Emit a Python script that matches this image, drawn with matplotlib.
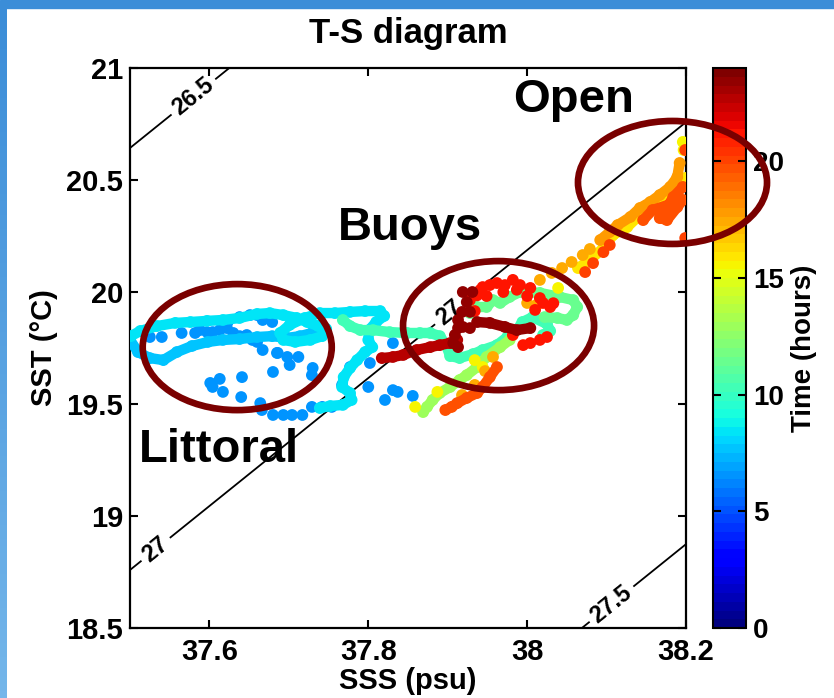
import numpy as np
import matplotlib
matplotlib.use("Agg")
import matplotlib.pyplot as plt
from matplotlib.patches import Ellipse, Rectangle
from matplotlib.colors import Normalize, LinearSegmentedColormap
from matplotlib.cm import ScalarMappable

plt.rcParams['font.family'] = ['Liberation Sans', 'DejaVu Sans']
plt.rcParams['font.weight'] = 'bold'

# ---- ship track (SSS psu, SST degC, time in hours) ----
# littoral: scattered blue fixes
blue_sss = [37.525, 37.540, 37.565, 37.582, 37.588, 37.597, 37.604, 37.613, 37.622, 37.630,
            37.638, 37.647, 37.654, 37.660, 37.623, 37.638, 37.651, 37.660, 37.667, 37.679,
            37.667, 37.685, 37.698, 37.701, 37.712, 37.730, 37.729, 37.680, 37.601, 37.613,
            37.604, 37.617, 37.641, 37.640, 37.664, 37.666, 37.680, 37.693, 37.704, 37.717,
            37.729, 37.742, 37.754, 37.777, 37.802, 37.831, 37.767, 37.800, 37.821, 37.831,
            37.837, 37.856, 37.686]
blue_sst = [19.799, 19.799, 19.817, 19.817, 19.830, 19.821, 19.821, 19.830, 19.839, 19.817,
            19.803, 19.808, 19.786, 19.777, 19.866, 19.888, 19.897, 19.897, 19.875, 19.866,
            19.741, 19.728, 19.710, 19.674, 19.710, 19.661, 19.629, 19.643, 19.594, 19.612,
            19.576, 19.554, 19.620, 19.531, 19.504, 19.473, 19.451, 19.451, 19.451, 19.451,
            19.487, 19.487, 19.487, 19.665, 19.683, 19.772, 19.585, 19.576, 19.518, 19.562,
            19.554, 19.536, 19.728]
blue_hour = 6.4

lightblue_sss = [37.500, 37.510, 37.525, 37.542, 37.559, 37.578, 37.598, 37.617, 37.638,
                 37.660, 37.679, 37.698, 37.714, 37.729, 37.742]
lightblue_sst = [19.786, 19.732, 19.705, 19.696, 19.732, 19.759, 19.777, 19.786, 19.790,
                 19.799, 19.803, 19.795, 19.803, 19.817, 19.839]
lightblue_hour = 7.5

cyan_sss = [37.501, 37.513, 37.534, 37.557, 37.576, 37.597, 37.617, 37.638, 37.660, 37.676,
            37.693, 37.710, 37.723, 37.737, 37.747, 37.742, 37.727, 37.708, 37.693, 37.689,
            37.701, 37.720, 37.739, 37.758, 37.777, 37.796, 37.815, 37.820, 37.810, 37.801,
            37.800, 37.805, 37.796, 37.786, 37.777, 37.769, 37.767, 37.777, 37.779, 37.768,
            37.752, 37.739]
cyan_sst = [19.803, 19.826, 19.848, 19.862, 19.866, 19.871, 19.875, 19.884, 19.902, 19.906,
            19.897, 19.884, 19.866, 19.848, 19.835, 19.803, 19.786, 19.777, 19.786, 19.817,
            19.853, 19.884, 19.906, 19.906, 19.911, 19.915, 19.915, 19.893, 19.866, 19.830,
            19.786, 19.754, 19.732, 19.696, 19.661, 19.620, 19.576, 19.549, 19.518, 19.496,
            19.491, 19.482]
cyan_hour = 8.6

aqua_sss = [37.768, 37.777, 37.790, 37.806, 37.827, 37.849, 37.865, 37.878, 37.890, 37.898,
            37.903, 37.915, 37.932, 37.944, 37.962, 37.975, 37.987, 37.994, 38.007, 38.025,
            38.029, 38.020]
aqua_sst = [19.875, 19.848, 19.830, 19.830, 19.821, 19.817, 19.817, 19.817, 19.803, 19.763,
            19.714, 19.705, 19.723, 19.741, 19.763, 19.799, 19.830, 19.866, 19.888, 19.857,
            19.826, 19.808]
aqua_hour = 10.3

green_sss = [37.928, 37.937, 37.949, 37.957, 37.966, 37.978, 37.991, 38.016, 38.041, 38.058,
             38.063, 38.058, 38.050, 38.038, 38.022]
green_sst = [19.906, 19.933, 19.933, 19.964, 19.951, 19.978, 20.000, 19.996, 19.978, 19.964,
             19.933, 19.897, 19.875, 19.884, 19.888]
green_hour = 11.5

lime_sss = [37.978, 37.966, 37.949, 37.937, 37.924, 37.915, 37.903, 37.890, 37.881, 37.874,
            37.869]
lime_sst = [19.786, 19.754, 19.710, 19.665, 19.629, 19.607, 19.576, 19.549, 19.518, 19.487,
            19.464]
lime_hour = 13.0

yellow_sss = [37.859, 37.887, 37.934, 38.039, 38.012, 37.944, 38.196, 38.197]
yellow_sst = [19.487, 19.554, 19.696, 20.018, 19.942, 19.665, 20.670, 20.634]
yellow_hour = 15.5

open_yellow_sss = [38.064, 38.079, 38.096, 38.108, 38.126, 38.142, 38.155, 38.167, 38.180,
                   38.189, 38.199]
open_yellow_sst = [20.107, 20.143, 20.196, 20.254, 20.290, 20.344, 20.375, 20.402, 20.442,
                   20.478, 20.509]
open_yellow_hour = 16.0

orange_sss = [38.016, 38.031, 38.044, 38.056, 38.070, 38.079, 38.000, 38.012, 37.957, 37.947,
              37.934, 37.918]
orange_sst = [20.054, 20.085, 20.107, 20.134, 20.165, 20.192, 19.951, 19.942, 19.710, 19.647,
              19.585, 19.540]
orange_hour = 17.5

open_orange_sss = [38.092, 38.104, 38.114, 38.130, 38.142, 38.155, 38.167, 38.180, 38.189,
                   38.192]
open_orange_sst = [20.232, 20.268, 20.299, 20.335, 20.375, 20.402, 20.433, 20.469, 20.513,
                   20.576]
open_orange_hour = 17.8

redorange_sss = [37.962, 37.953, 37.944, 37.937, 37.924, 37.912, 37.905, 37.897]
redorange_sst = [19.665, 19.620, 19.576, 19.549, 19.527, 19.504, 19.487, 19.473]
redorange_hour = 19.5

open_red_sss = [38.196, 38.184, 38.176, 38.167, 38.176, 38.189, 38.196, 38.158, 38.146]
open_red_sst = [20.469, 20.424, 20.375, 20.330, 20.321, 20.379, 20.411, 20.366, 20.321]
open_red_hour = 19.8

open_red_dots_sss = [38.104, 38.096, 38.083, 38.073, 38.199, 38.199]
open_red_dots_sst = [20.210, 20.178, 20.129, 20.089, 20.241, 20.634]
open_red_dots_hour = 20.0

red_sss = [37.941, 37.944, 37.953, 37.962, 37.972, 37.982, 37.991, 38.004, 38.016, 38.020,
           38.029, 38.025, 37.995, 37.928, 37.934, 37.949, 37.970, 38.000, 38.010, 38.016,
           38.004, 37.982, 37.937, 37.987, 38.033]
red_sst = [20.009, 20.022, 20.031, 20.040, 20.031, 20.054, 20.031, 20.018, 19.973, 19.951,
           19.933, 19.799, 19.763, 19.964, 19.915, 19.982, 20.000, 19.982, 19.920, 19.786,
           19.772, 19.808, 19.985, 20.010, 19.950]
red_hour = 21.3

darkred_band_sss = [37.817, 37.831, 37.844, 37.861, 37.878, 37.890, 37.903, 37.912]
darkred_band_sst = [19.705, 19.710, 19.719, 19.741, 19.754, 19.763, 19.772, 19.786]
darkred_band_hour = 22.5

maroon_sss = [37.919, 37.931, 37.924, 37.918, 37.928, 37.913, 37.919, 37.928, 37.913, 37.909,
              37.907, 37.913]
maroon_sst = [20.000, 20.000, 19.955, 19.911, 19.911, 19.875, 19.844, 19.839, 19.839, 19.808,
              19.772, 19.754]
maroon_hour = 23.4

maroon_band_sss = [37.937, 37.953, 37.972, 37.987, 38.004]
maroon_band_sst = [19.866, 19.862, 19.844, 19.830, 19.839]
maroon_band_hour = 23.6

# (sss, sst, hour, drawn as a continuous band)
tracks = [
    (blue_sss, blue_sst, blue_hour, False),
    (lightblue_sss, lightblue_sst, lightblue_hour, True),
    (cyan_sss, cyan_sst, cyan_hour, True),
    (aqua_sss, aqua_sst, aqua_hour, True),
    (green_sss, green_sst, green_hour, True),
    (lime_sss, lime_sst, lime_hour, True),
    (yellow_sss, yellow_sst, yellow_hour, False),
    (open_yellow_sss, open_yellow_sst, open_yellow_hour, True),
    (orange_sss, orange_sst, orange_hour, False),
    (open_orange_sss, open_orange_sst, open_orange_hour, True),
    (redorange_sss, redorange_sst, redorange_hour, True),
    (open_red_sss, open_red_sst, open_red_hour, True),
    (open_red_dots_sss, open_red_dots_sst, open_red_dots_hour, False),
    (red_sss, red_sst, red_hour, False),
    (darkred_band_sss, darkred_band_sst, darkred_band_hour, True),
    (maroon_sss, maroon_sst, maroon_hour, False),
    (maroon_band_sss, maroon_band_sst, maroon_band_hour, True),
]

# linear equation of state fitted to the sigma-t isolines of the figure
sigma_ref, sss_ref, sst_ref = 27.0, 37.5, 18.759
beta, alpha = 0.758, 0.2654
sigma_levels = [26.5, 27, 27.5]
label_pos = [(37.588, 20.835), (37.531, 18.857), (37.899, 19.92), (38.102, 18.625)]

# circled regions: name, centre, width, height, label position
regions = [
    ('Littoral', (37.635, 19.754), 0.238, 0.5625, (37.612, 19.295)),
    ('Buoys', (37.964, 19.850), 0.2405, 0.576, (37.853, 20.286)),
    ('Open', (38.183, 20.489), 0.238, 0.549, (38.058, 20.857)),
]

W, H = 834, 698
fig = plt.figure(figsize=(W / 100, H / 100), dpi=100)
ax = fig.add_axes([130 / W, 70 / H, 556 / W, 560 / H])

cmap = plt.get_cmap('jet', 64)
norm = Normalize(0, 24)

ss, tt = np.meshgrid(np.linspace(37.5, 38.2, 50), np.linspace(18.5, 21, 50))
sig = sigma_ref + beta * (ss - sss_ref) - alpha * (tt - sst_ref)
cs = ax.contour(ss, tt, sig, levels=sigma_levels, colors='k', linewidths=1.3, zorder=1)
labels = ax.clabel(cs, fmt=lambda v: f'{v:g}', manual=label_pos, inline=True,
                   inline_spacing=5, fontsize=17)
for t in labels:
    t.set_fontweight('bold')

z = 2
for s, t, h, band in sorted(tracks, key=lambda r: r[2]):
    col = cmap(norm(h))
    if band:
        ax.plot(s, t, color=col, lw=7.5, solid_capstyle='round',
                solid_joinstyle='round', zorder=z)
    ax.scatter(s, t, c=[h] * len(s), cmap=cmap, norm=norm, s=72,
               edgecolors='none', zorder=z + 0.5)
    z += 1

ax.set_xlim(37.5, 38.2)
ax.set_ylim(18.5, 21)
ax.set_xticks([37.6, 37.8, 38, 38.2])
ax.set_xticklabels(['37.6', '37.8', '38', '38.2'])
ax.set_yticks([18.5, 19, 19.5, 20, 20.5, 21])
ax.set_yticklabels(['18.5', '19', '19.5', '20', '20.5', '21'])
ax.tick_params(direction='in', length=6, width=1.5, labelsize=21,
               top=True, right=True, pad=7)
ax.tick_params(axis='y', pad=5)
for sp in ax.spines.values():
    sp.set_linewidth(1.6)
ax.set_xlabel('SSS (psu)', fontsize=21, fontweight='bold', labelpad=1)
ax.set_ylabel('SST (°C)', fontsize=21, fontweight='bold', labelpad=6)

for name, c, w, h, lp in regions:
    fig.add_artist(Ellipse(c, w, h, transform=ax.transData, fill=False,
                           edgecolor='#7a0000', lw=4.8, zorder=5))
    ax.text(lp[0], lp[1], name, fontsize=34, fontweight='bold', ha='center',
            va='center', zorder=30)

cax = fig.add_axes([713 / W, 70 / H, 33 / W, 560 / H])
cb = fig.colorbar(ScalarMappable(norm=norm, cmap=cmap), cax=cax, ticks=[0, 5, 10, 15, 20])
cb.outline.set_linewidth(1.5)
cax.tick_params(direction='in', left=True, right=True, length=6, width=1.5,
                labelsize=20, pad=5)
cb.set_label('Time (hours)', fontsize=20, fontweight='bold', labelpad=5)

fig.text(408 / W, 1 - 33 / H, 'T-S diagram', fontsize=25, fontweight='bold',
         ha='center', va='center')

# slide frame
fig.add_artist(Rectangle((0, 1 - 8 / H), 1, 8 / H, transform=fig.transFigure,
                         color='#3b8dd8', zorder=10))
fax = fig.add_axes([0, 0, 7 / W, 1 - 8 / H])
fax.imshow(np.linspace(0, 1, 100).reshape(-1, 1), aspect='auto',
           cmap=LinearSegmentedColormap.from_list('frame', ['#3b8dd8', '#74b6ea']))
fax.axis('off')

fig.savefig('out.png', dpi=100)
